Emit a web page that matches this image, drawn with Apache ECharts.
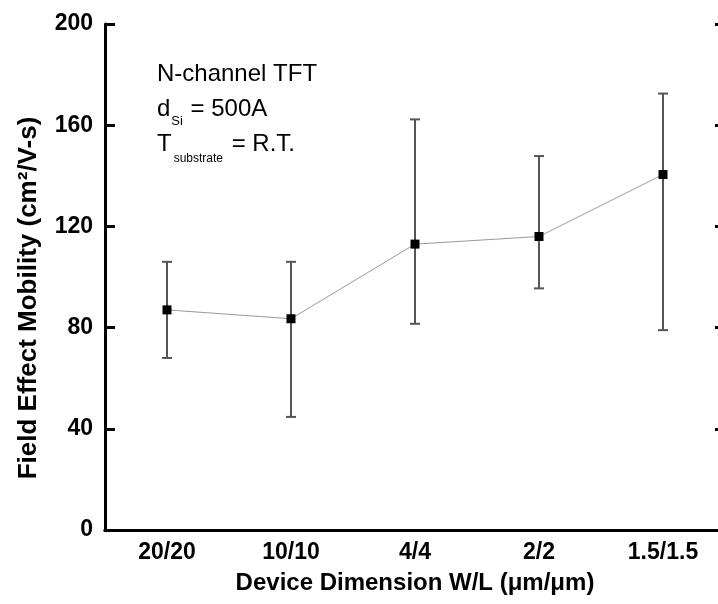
<!DOCTYPE html>
<html>
<head>
<meta charset="utf-8">
<script src="https://cdn.jsdelivr.net/npm/echarts@6/dist/echarts.min.js"></script>
<style>html,body{margin:0;padding:0;background:#fff;}#c{width:718px;height:604px;}</style>
</head>
<body>
<div id="c"></div>
<script>
var categories = ['20/20', '10/10', '4/4', '2/2', '1.5/1.5'];
var mobility = [87, 83.5, 113, 116, 140.5];
var errLow = [68, 44.7, 81.5, 95.5, 79];
var errHigh = [106, 106, 162.3, 147.8, 172.5];
var yTicks = [0, 40, 80, 120, 160, 200];

var chart = echarts.init(document.getElementById('c'));
var font = '"Liberation Sans", Arial, sans-serif';
var errData = categories.map(function (c, i) { return [i, errLow[i], errHigh[i]]; });

var option = {
  animation: false,
  backgroundColor: '#fff',
  grid: { left: 105, right: -7, top: 24, bottom: 74, containLabel: false, outerBoundsMode: 'none' },
  xAxis: [{
    type: 'category', data: categories, position: 'bottom',
    axisLine: { lineStyle: { color: '#000', width: 3 } },
    axisTick: { alignWithLabel: true, inside: true, length: 10, lineStyle: { color: '#000', width: 3 } },
    axisLabel: { color: '#000', fontFamily: font, fontWeight: 'bold', fontSize: 23, margin: 11 },
    name: 'Device Dimension W/L (\u03bcm/\u03bcm)', nameLocation: 'middle', nameGap: 41,
    nameTextStyle: { color: '#000', fontFamily: font, fontWeight: 'bold', fontSize: 24 },
    splitLine: { show: false }
  }, {
    type: 'category', data: categories, position: 'top',
    axisLine: { lineStyle: { color: '#000', width: 3 } },
    axisTick: { alignWithLabel: true, inside: true, length: 10, lineStyle: { color: '#000', width: 3 } },
    axisLabel: { show: false }, splitLine: { show: false }
  }],
  yAxis: [{
    type: 'value', min: 0, max: 200, interval: 40, position: 'left',
    axisLine: { show: true, lineStyle: { color: '#000', width: 3 } },
    axisTick: { show: true, inside: true, length: 10, lineStyle: { color: '#000', width: 3 } },
    axisLabel: { color: '#000', fontFamily: font, fontWeight: 'bold', fontSize: 23, margin: 12,
      formatter: function (v) { return yTicks.indexOf(v) >= 0 ? String(v) : ''; } },
    splitLine: { show: false },
    name: 'Field Effect Mobility (cm\u00b2/V-s)', nameLocation: 'middle', nameGap: 63,
    nameTextStyle: { color: '#000', fontFamily: font, fontWeight: 'bold', fontSize: 26, padding: [0, 42, 0, 0] }
  }, {
    type: 'value', min: 0, max: 200, interval: 40, position: 'right',
    axisLine: { show: true, lineStyle: { color: '#000', width: 3 } },
    axisTick: { show: true, inside: true, length: 10, lineStyle: { color: '#000', width: 3 } },
    axisLabel: { show: false }, splitLine: { show: false }
  }],
  graphic: [{
    type: 'text', left: 157, top: 57,
    style: {
      text: 'N-channel TFT\n{m|d}{s1|Si}{m| = 500A}\n{m|T}{s2|substrate}{m| = R.T.}',
      fontFamily: font, fontSize: 24, lineHeight: 35, fill: '#000',
      rich: {
        m: { fontFamily: font, fontSize: 24, lineHeight: 35, color: '#000' },
        s1: { fontFamily: font, fontSize: 13, lineHeight: 13, color: '#000', padding: [24, 1, 0, 1] },
        s2: { fontFamily: font, fontSize: 12, lineHeight: 12, color: '#000', padding: [28, 2, 0, 2] }
      }
    }
  }],
  series: [{
    type: 'custom', name: 'err', xAxisIndex: 0, yAxisIndex: 0, z: 2,
    data: errData,
    renderItem: function (params, api) {
      var x = api.value(0);
      var lo = api.coord([x, api.value(1)]);
      var hi = api.coord([x, api.value(2)]);
      var hw = 5;
      var st = { stroke: '#555', lineWidth: 2 };
      return {
        type: 'group',
        children: [
          { type: 'line', shape: { x1: hi[0], y1: hi[1], x2: lo[0], y2: lo[1] }, style: st },
          { type: 'line', shape: { x1: hi[0] - hw, y1: hi[1], x2: hi[0] + hw, y2: hi[1] }, style: st },
          { type: 'line', shape: { x1: lo[0] - hw, y1: lo[1], x2: lo[0] + hw, y2: lo[1] }, style: st }
        ]
      };
    }
  }, {
    type: 'line', name: 'mobility', xAxisIndex: 0, yAxisIndex: 0, z: 3,
    data: mobility,
    symbol: 'rect', symbolSize: 9,
    itemStyle: { color: '#000' },
    lineStyle: { color: '#999', width: 1 }
  }]
};
chart.setOption(option);
</script>
</body>
</html>
